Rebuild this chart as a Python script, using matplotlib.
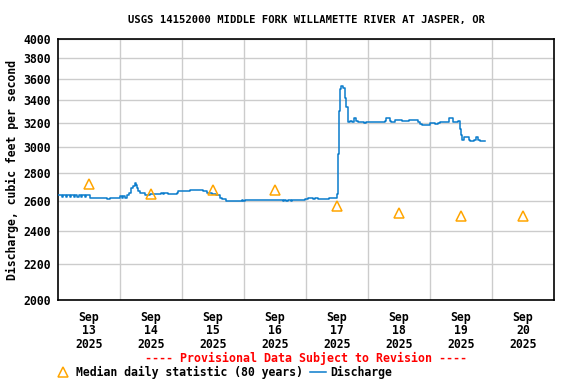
import matplotlib
matplotlib.use("Agg")
from matplotlib import pyplot as plt
from matplotlib.lines import Line2D
from matplotlib.ticker import FixedLocator, NullLocator

# hours since Sep 13 2025 00:00 and discharge (cfs)
hours = [0, 1.5, 2, 3, 3.4, 4.5, 5, 6, 6.4, 7.5, 8, 9, 9.4, 10.5, 11, 12.4,
         19, 20, 24, 24.6, 25.2, 25.8, 26.7, 27.5, 28.3, 29, 29.8, 30.2, 30.6,
         31, 31.7, 33.7, 35.6, 40, 40.5, 41.2, 42.5, 46, 46.5, 47.2, 51, 54.6,
         56, 57.7, 59.6, 61, 62.7, 63.5, 65, 71.2, 71.6, 72.4, 74.3, 87, 87.6,
         88.4, 89, 90, 90.6, 92, 95.6, 96.8, 98.7, 99.3, 100.6, 105, 107.6,
         108, 108.4, 108.8, 109.2, 109.5, 110.3, 111, 111.6, 112.3, 113, 113.8,
         114.6, 115.4, 116, 118.5, 119.2, 126.5, 127, 128.5, 129, 130.5, 133,
         134.7, 136, 138, 139.4, 140, 141, 144, 145.9, 147, 148, 151.4, 152.9,
         155, 155.6, 156, 156.4, 157, 159.2, 159.6, 161, 162, 162.4, 163.4,
         165.3]
flow = [2640, 2630, 2640, 2630, 2640, 2630, 2640, 2630, 2640, 2630, 2640,
        2630, 2640, 2630, 2640, 2625,
        2615, 2625, 2635, 2625, 2635, 2625, 2640, 2660, 2690, 2710, 2727, 2715,
        2690, 2670, 2655, 2645, 2650, 2655, 2650, 2655, 2650, 2660, 2670, 2675,
        2678, 2680, 2670, 2660, 2650, 2640, 2625, 2615, 2600, 2610, 2600, 2610,
        2610, 2600, 2610, 2600, 2610, 2600, 2610, 2610, 2615, 2620, 2615, 2620,
        2615, 2620, 2620, 2650, 2950, 3300, 3500, 3533, 3510, 3420, 3340, 3210,
        3220, 3210, 3240, 3220, 3210, 3200, 3210, 3220, 3240, 3220, 3210, 3230,
        3220, 3220, 3230, 3230, 3210, 3190, 3185, 3200, 3190, 3200, 3210, 3240,
        3210, 3220, 3150, 3100, 3060, 3080, 3060, 3050, 3060, 3080, 3060, 3050,
        3050]

# median daily statistic, plotted at noon of each day
median_hours = [12, 36, 60, 84, 108, 132, 156, 180]
median_flow = [2725, 2650, 2680, 2680, 2570, 2520, 2500, 2500]

day_labels = ["Sep\n13\n2025", "Sep\n14\n2025", "Sep\n15\n2025", "Sep\n16\n2025",
              "Sep\n17\n2025", "Sep\n18\n2025", "Sep\n19\n2025", "Sep\n20\n2025"]
y_ticks = [2000, 2200, 2400, 2600, 2800, 3000, 3200, 3400, 3600, 3800, 4000]

font = {"family": "DejaVu Sans Mono", "weight": "bold"}
blue = "#0a7ccc"
orange = "#ffa500"

fig = plt.figure(figsize=(5.76, 3.84), dpi=100)
ax = fig.add_axes([58 / 576, 84 / 384, 496 / 576, 261 / 384])

ax.plot(hours, flow, drawstyle="steps-post", color=blue, lw=1.1, zorder=3)
ax.plot(median_hours, median_flow, linestyle="none", marker="^", markersize=6.5,
        markerfacecolor="none", markeredgecolor=orange, markeredgewidth=1.1, zorder=4)

ax.set_yscale("log")
ax.set_ylim(2000, 4000)
ax.set_xlim(0, 192)
ax.yaxis.set_major_locator(FixedLocator(y_ticks))
ax.yaxis.set_minor_locator(NullLocator())
ax.set_yticklabels([str(v) for v in y_ticks], fontdict=font, fontsize=8.3)
ax.set_xticks(median_hours)
ax.set_xticklabels(day_labels, fontdict=font, fontsize=8.3, linespacing=1.02)
ax.set_xticks(range(24, 192, 24), minor=True)
ax.tick_params(axis="both", which="both", length=0, pad=5)
ax.tick_params(axis="x", which="major", pad=8)

ax.grid(True, axis="y", which="major", color="#cccccc", lw=1.0)
ax.grid(True, axis="x", which="minor", color="#cccccc", lw=1.0)
ax.set_axisbelow(True)
for s in ax.spines.values():
    s.set_linewidth(1.2)

ax.set_ylabel("Discharge, cubic feet per second", fontdict=font, fontsize=8.3, labelpad=3)
fig.text(306 / 576, 1 - 20 / 384, "USGS 14152000 MIDDLE FORK WILLAMETTE RIVER AT JASPER, OR",
         ha="center", va="center", fontsize=7.6, **font)
fig.text(306 / 576, 1 - 358 / 384, "---- Provisional Data Subject to Revision ----",
         ha="center", va="center", fontsize=8.4, color="red", **font)

handles = [Line2D([], [], linestyle="none", marker="^", markersize=6.5, markerfacecolor="none",
                  markeredgecolor=orange, markeredgewidth=1.1),
           Line2D([], [], color=blue, lw=1.1)]
fig.legend(handles, ["Median daily statistic (80 years)", "Discharge"],
           loc="center", bbox_to_anchor=(224 / 576, 1 - 372 / 384), ncol=2, frameon=False,
           prop={"family": "DejaVu Sans Mono", "weight": "bold", "size": 8.3},
           handlelength=1.4, handletextpad=0.4, columnspacing=0.6, borderaxespad=0)

fig.savefig("out.png", dpi=100)
